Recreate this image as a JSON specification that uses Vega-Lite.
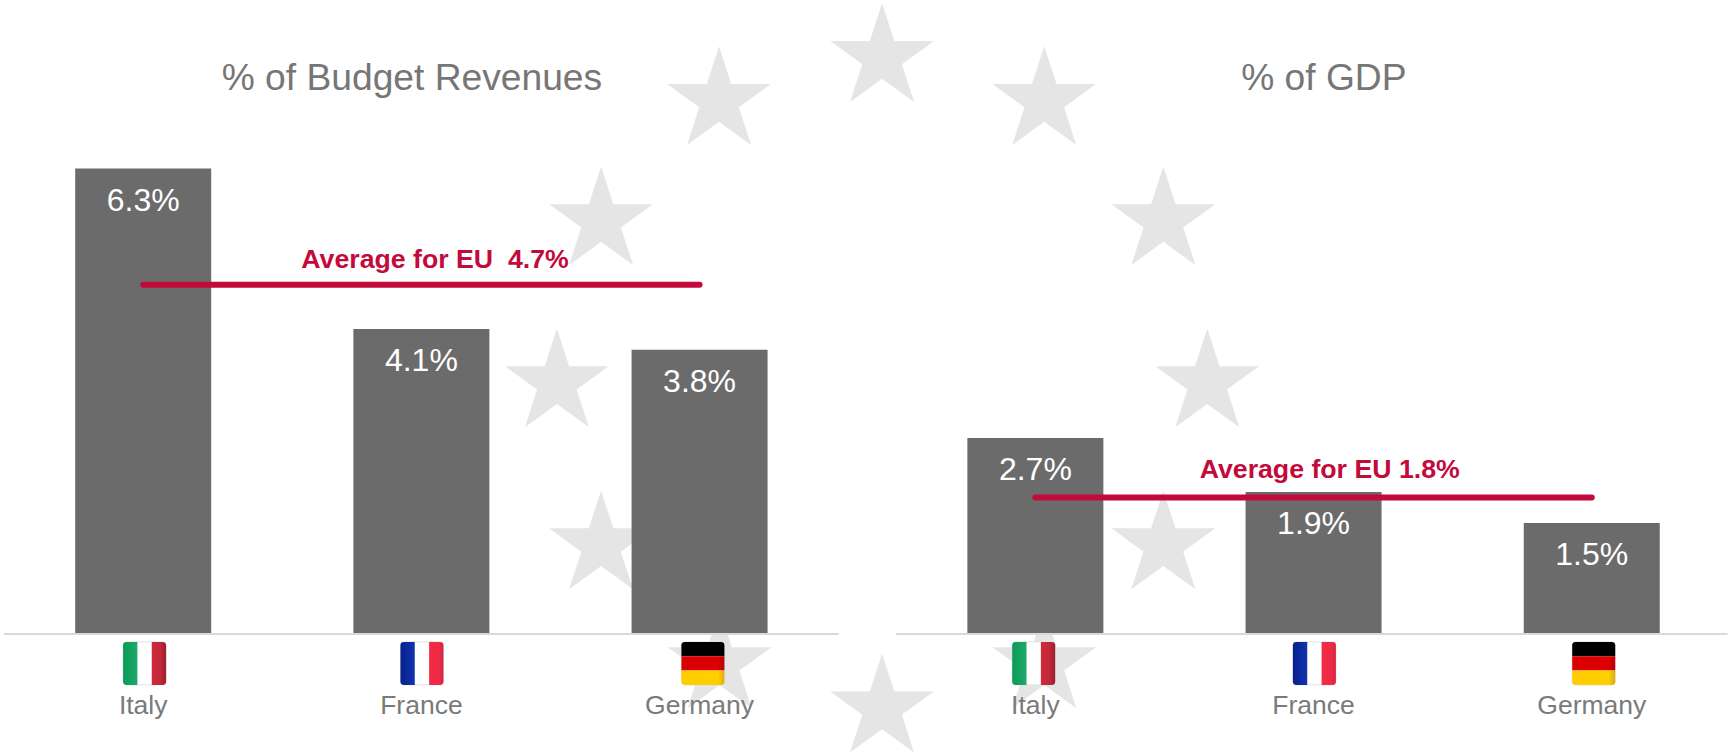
{
"$schema":"https://vega.github.io/schema/vega-lite/v6.json",
"width":1729,"height":754,
"autosize":{"type":"fit","contains":"padding"},
"padding":0,
"background":"white",
"config":{"view":{"stroke":null},"axis":{"disable":true},"legend":{"disable":true},"font":"Liberation Sans"},
"datasets":{
"stars":[
{"slot":2.656,"level":7.786},{"slot":2.070,"level":7.205},{"slot":3.239,"level":7.205},
{"slot":1.646,"level":5.581},{"slot":3.667,"level":5.581},{"slot":1.487,"level":3.391},
{"slot":3.825,"level":3.391},{"slot":1.646,"level":1.200},{"slot":3.667,"level":1.200},
{"slot":2.072,"level":-0.407},{"slot":3.239,"level":-0.407},{"slot":2.656,"level":-1.005}],
"bars":[
{"panel":"% of Budget Revenues","country":"Italy","slot":0,"value":6.29,"label":"6.3%","nameLevel":-1.08},
{"panel":"% of Budget Revenues","country":"France","slot":1,"value":4.12,"label":"4.1%","nameLevel":-1.08},
{"panel":"% of Budget Revenues","country":"Germany","slot":2,"value":3.84,"label":"3.8%","nameLevel":-1.08},
{"panel":"% of GDP","country":"Italy","slot":3.207,"value":2.65,"label":"2.7%","nameLevel":-1.08},
{"panel":"% of GDP","country":"France","slot":4.207,"value":1.92,"label":"1.9%","nameLevel":-1.08},
{"panel":"% of GDP","country":"Germany","slot":5.207,"value":1.5,"label":"1.5%","nameLevel":-1.08}],
"panels":[
{"panel":"% of Budget Revenues","titleSlot":0.966,"titleLevel":7.5,"axisFrom":-0.5,"axisTo":2.5,"avgFrom":0,"avgTo":2,"avg":4.72,"avgLabel":"Average for EU\u00a0 4.7%","avgSlot":1.049,"avgLabelLevel":5.06,"base":0},
{"panel":"% of GDP","titleSlot":4.244,"titleLevel":7.5,"axisFrom":2.707,"axisTo":5.695,"avgFrom":3.207,"avgTo":5.207,"avg":1.845,"avgLabel":"Average for EU 1.8%","avgSlot":4.265,"avgLabelLevel":2.21,"base":0}],
"flags":[
{"flag":"Italy","slot":0.005,"level":-0.397},{"flag":"France","slot":1.002,"level":-0.397},{"flag":"Germany","slot":2.012,"level":-0.397},
{"flag":"Italy","slot":3.201,"level":-0.397},{"flag":"France","slot":4.21,"level":-0.397},{"flag":"Germany","slot":5.214,"level":-0.397}]
},
"layer":[
{"data":{"name":"stars"},
 "mark":{"type":"point","shape":"M0,-0.5L0.1123,-0.1545L0.4755,-0.1545L0.1816,0.059L0.2939,0.4045L0,0.191L-0.2939,0.4045L-0.1816,0.059L-0.4755,-0.1545L-0.1123,-0.1545Z","size":47524,"filled":true,"fill":"#e5e5e5","stroke":null,"opacity":1},
 "encoding":{
  "x":{"field":"slot","type":"quantitative","scale":{"domain":[-0.5147,5.7003],"nice":false,"zero":false,"padding":0}},
  "y":{"field":"level","type":"quantitative","scale":{"domain":[-1.6216,8.5676],"nice":false,"zero":false}}}},
{"data":{"name":"bars"},
 "mark":{"type":"bar","orient":"vertical","size":136,"color":"#6b6b6b"},
 "encoding":{"x":{"field":"slot","type":"quantitative"},"y":{"field":"value","type":"quantitative"}}},
{"data":{"name":"panels"},
 "mark":{"type":"rule","color":"#d9d9d9","strokeWidth":2},
 "encoding":{"x":{"field":"axisFrom","type":"quantitative"},"x2":{"field":"axisTo"},"y":{"field":"base","type":"quantitative"}}},
{"data":{"name":"bars"},
 "mark":{"type":"text","color":"white","fontSize":32,"baseline":"middle","dy":32},
 "encoding":{"x":{"field":"slot","type":"quantitative"},"y":{"field":"value","type":"quantitative"},"text":{"field":"label"}}},
{"data":{"name":"bars"},
 "mark":{"type":"text","color":"#7a7a7a","fontSize":26.5,"baseline":"alphabetic"},
 "encoding":{"x":{"field":"slot","type":"quantitative"},"y":{"field":"nameLevel","type":"quantitative"},"text":{"field":"country"}}},
{"data":{"name":"panels"},
 "mark":{"type":"rule","color":"#c20a3b","strokeWidth":6,"strokeCap":"round"},
 "encoding":{"x":{"field":"avgFrom","type":"quantitative"},"x2":{"field":"avgTo"},"y":{"field":"avg","type":"quantitative"}}},
{"data":{"name":"panels"},
 "mark":{"type":"text","color":"#c20a3b","fontSize":26.7,"fontWeight":"bold","baseline":"middle"},
 "encoding":{"x":{"field":"avgSlot","type":"quantitative"},"y":{"field":"avgLabelLevel","type":"quantitative"},"text":{"field":"avgLabel"}}},
{"data":{"name":"panels"},
 "mark":{"type":"text","color":"#767676","fontSize":37.2,"baseline":"middle"},
 "encoding":{"x":{"field":"titleSlot","type":"quantitative"},"y":{"field":"titleLevel","type":"quantitative"},"text":{"field":"panel"}}},
{"data":{"name":"flags"},
 "mark":{"type":"point","shape":"M-0.42,-0.5H0.42Q0.5,-0.5,0.5,-0.42V0.42Q0.5,0.5,0.42,0.5H-0.42Q-0.5,0.5,-0.5,0.42V-0.42Q-0.5,-0.5,-0.42,-0.5Z","size":7396,"filled":true,"fill":"white","stroke":"#e2e2e2","strokeWidth":1,"opacity":1},
 "encoding":{"x":{"field":"slot","type":"quantitative"},"y":{"field":"level","type":"quantitative"}}},
{"data":{"name":"flags"},"transform":[{"filter":"datum.flag==='Italy'"}],
 "mark":{"type":"point","size":7396,"filled":true,"stroke":null,"opacity":1,"shape":"M-0.5,-0.42Q-0.5,-0.5,-0.42,-0.5H-0.167V0.5H-0.42Q-0.5,0.5,-0.5,0.42Z",
  "fill":{"gradient":"linear","x1":0,"x2":1,"y1":0,"y2":0,"stops":[{"offset":0,"color":"#0d9a58"},{"offset":0.5,"color":"#12a35f"},{"offset":1,"color":"#1fa86a"}]}},
 "encoding":{"x":{"field":"slot","type":"quantitative"},"y":{"field":"level","type":"quantitative"}}},
{"data":{"name":"flags"},"transform":[{"filter":"datum.flag==='Italy'"}],
 "mark":{"type":"point","size":7396,"filled":true,"stroke":null,"opacity":1,"shape":"M0.167,-0.5H0.42Q0.5,-0.5,0.5,-0.42V0.42Q0.5,0.5,0.42,0.5H0.167Z",
  "fill":{"gradient":"linear","x1":0,"x2":1,"y1":0,"y2":0,"stops":[{"offset":0,"color":"#cf2a3b"},{"offset":0.6,"color":"#c2283a"},{"offset":1,"color":"#96202c"}]}},
 "encoding":{"x":{"field":"slot","type":"quantitative"},"y":{"field":"level","type":"quantitative"}}},
{"data":{"name":"flags"},"transform":[{"filter":"datum.flag==='France'"}],
 "mark":{"type":"point","size":7396,"filled":true,"stroke":null,"opacity":1,"shape":"M-0.5,-0.42Q-0.5,-0.5,-0.42,-0.5H-0.167V0.5H-0.42Q-0.5,0.5,-0.5,0.42Z",
  "fill":{"gradient":"linear","x1":0,"x2":1,"y1":0,"y2":0,"stops":[{"offset":0,"color":"#07208c"},{"offset":1,"color":"#1034b0"}]}},
 "encoding":{"x":{"field":"slot","type":"quantitative"},"y":{"field":"level","type":"quantitative"}}},
{"data":{"name":"flags"},"transform":[{"filter":"datum.flag==='France'"}],
 "mark":{"type":"point","size":7396,"filled":true,"stroke":null,"opacity":1,"shape":"M0.167,-0.5H0.42Q0.5,-0.5,0.5,-0.42V0.42Q0.5,0.5,0.42,0.5H0.167Z",
  "fill":{"gradient":"linear","x1":0,"x2":1,"y1":0,"y2":0,"stops":[{"offset":0,"color":"#f22b45"},{"offset":0.7,"color":"#ee2a45"},{"offset":1,"color":"#cf2540"}]}},
 "encoding":{"x":{"field":"slot","type":"quantitative"},"y":{"field":"level","type":"quantitative"}}},
{"data":{"name":"flags"},"transform":[{"filter":"datum.flag==='Germany'"}],
 "mark":{"type":"point","size":7396,"filled":true,"stroke":null,"opacity":1,"shape":"M-0.5,-0.42Q-0.5,-0.5,-0.42,-0.5H0.42Q0.5,-0.5,0.5,-0.42V-0.167H-0.5Z","fill":"#000000"},
 "encoding":{"x":{"field":"slot","type":"quantitative"},"y":{"field":"level","type":"quantitative"}}},
{"data":{"name":"flags"},"transform":[{"filter":"datum.flag==='Germany'"}],
 "mark":{"type":"point","size":7396,"filled":true,"stroke":null,"opacity":1,"shape":"M-0.5,-0.167H0.5V0.167H-0.5Z",
  "fill":{"gradient":"linear","x1":0,"x2":1,"y1":0,"y2":0,"stops":[{"offset":0,"color":"#d80000"},{"offset":0.85,"color":"#dd0000"},{"offset":1,"color":"#b80000"}]}},
 "encoding":{"x":{"field":"slot","type":"quantitative"},"y":{"field":"level","type":"quantitative"}}},
{"data":{"name":"flags"},"transform":[{"filter":"datum.flag==='Germany'"}],
 "mark":{"type":"point","size":7396,"filled":true,"stroke":null,"opacity":1,"shape":"M-0.5,0.167H0.5V0.42Q0.5,0.5,0.42,0.5H-0.42Q-0.5,0.5,-0.5,0.42Z",
  "fill":{"gradient":"linear","x1":0,"x2":1,"y1":0,"y2":0,"stops":[{"offset":0,"color":"#ffcc00"},{"offset":0.85,"color":"#ffcf00"},{"offset":1,"color":"#d8ac10"}]}},
 "encoding":{"x":{"field":"slot","type":"quantitative"},"y":{"field":"level","type":"quantitative"}}}
]
}
